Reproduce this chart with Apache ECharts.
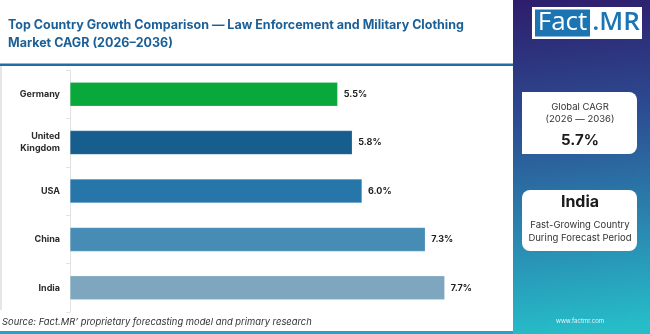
<!DOCTYPE html>
<html><head><meta charset="utf-8">
<script src="https://cdn.jsdelivr.net/npm/echarts@6/dist/echarts.min.js"></script>
<style>html,body{margin:0;padding:0;background:#fff}#c{width:650px;height:334px}</style>
</head><body><div id="c"></div>
<script>
const categories = ['Germany', 'United\nKingdom', 'USA', 'China', 'India'];
const cagrValues = [5.5, 5.8, 6.0, 7.3, 7.7];
const barColors = ['#08a93a', '#175d8e', '#2776aa', '#478cb5', '#7ea7bf'];
const titleLines = ['Top Country Growth Comparison \u2014 Law Enforcement and Military Clothing', 'Market CAGR (2026\u20132036)'];
const sourceText = 'Source: Fact.MR\u2019 proprietary forecasting model and primary research';
const globalCagr = '5.7%';
const fastCountry = 'India';

const chart = echarts.init(document.getElementById('c'), null, {renderer: 'canvas'});
const F = 'Inter, "Open Sans", sans-serif';
chart.setOption({
  animation: false,
  grid: {left: 70, top: 70, width: 438, height: 242, containLabel: false},
  xAxis: {type: 'value', min: 0, max: 9, show: false},
  yAxis: {
    type: 'category', data: categories, inverse: true,
    axisLine: {lineStyle: {color: '#e2e2e2', width: 1}},
    axisTick: {show: true, length: 4, lineStyle: {color: '#e2e2e2'}},
    axisLabel: {color: '#2b2b2b', fontFamily: F, fontWeight: 'bold', fontSize: 9, margin: 10, lineHeight: 12}
  },
  series: [{
    type: 'bar', barWidth: 24,
    data: cagrValues.map((v, i) => ({value: v, itemStyle: {color: barColors[i], borderColor: 'rgba(255,255,255,0.35)', borderWidth: 0.5}})),
    label: {show: true, position: 'right', distance: 6, formatter: p => p.value.toFixed(1) + '%', color: '#1e1e1e', fontFamily: F, fontWeight: 'bold', fontSize: 9}
  }],
  graphic: [
    {type: 'rect', shape: {x: 0, y: 66, width: 2, height: 244}, style: {fill: '#e6e6e6'}, silent: true},
    {type: 'text', x: 8, y: 25, style: {text: titleLines[0], fill: '#1b5f97', font: 'bold 12.5px ' + F, verticalAlign: 'middle'}},
    {type: 'text', x: 8, y: 43, style: {text: titleLines[1], fill: '#1b5f97', font: 'bold 12.5px ' + F, verticalAlign: 'middle'}},
    {type: 'rect', shape: {x: 0, y: 63.5, width: 513, height: 2.5}, style: {fill: '#1f6ea6'}},
    {type: 'rect', shape: {x: 0, y: 331, width: 513, height: 3}, style: {fill: '#1aa7cf'}},
    {type: 'text', x: 2, y: 322, style: {text: sourceText, fill: '#333', font: 'italic 9.4px ' + F, verticalAlign: 'middle'}},
    {type: 'rect', shape: {x: 513, y: 0, width: 137, height: 334},
      style: {fill: new echarts.graphic.LinearGradient(0, 0, 0.25, 1, [
        {offset: 0, color: '#2e1d6c'}, {offset: 0.35, color: '#2c4a90'}, {offset: 0.7, color: '#2a86b0'}, {offset: 1, color: '#26bcc8'}])}},
    {type: 'rect', shape: {x: 532, y: 7, width: 110, height: 32}, style: {fill: '#ffffff'}},
    {type: 'rect', shape: {x: 535, y: 9.5, width: 55, height: 27}, style: {fill: '#1c74b2'}},
    {type: 'text', x: 562.5, y: 23, style: {text: 'Fact', fill: '#fff', font: '400 26px "Open Sans", ' + F, align: 'center', verticalAlign: 'middle'}},
    {type: 'text', x: 616, y: 23, style: {text: '.MR', fill: '#1c74b2', font: '600 26px "Open Sans", ' + F, align: 'center', verticalAlign: 'middle'}},
    {type: 'rect', shape: {x: 522, y: 92, width: 115, height: 62, r: [0, 8, 8, 0]}, style: {fill: '#ffffff'}},
    {type: 'text', x: 580, y: 107, style: {text: 'Global CAGR', fill: '#333', font: '9.5px ' + F, align: 'center', verticalAlign: 'middle'}},
    {type: 'text', x: 580, y: 119, style: {text: '(2026 \u2014 2036)', fill: '#333', font: '9.5px ' + F, align: 'center', verticalAlign: 'middle'}},
    {type: 'text', x: 580, y: 140, style: {text: globalCagr, fill: '#1a1a1a', font: 'bold 15px ' + F, align: 'center', verticalAlign: 'middle'}},
    {type: 'rect', shape: {x: 522, y: 190, width: 115, height: 61, r: [8, 8, 8, 8]}, style: {fill: '#ffffff'}},
    {type: 'text', x: 580, y: 202, style: {text: fastCountry, fill: '#1a1a1a', font: 'bold 16px ' + F, align: 'center', verticalAlign: 'middle'}},
    {type: 'text', x: 580, y: 225, style: {text: 'Fast-Growing Country', fill: '#333', font: '9.5px ' + F, align: 'center', verticalAlign: 'middle'}},
    {type: 'text', x: 580, y: 238, style: {text: 'During Forecast Period', fill: '#333', font: '9.5px ' + F, align: 'center', verticalAlign: 'middle'}},
    {type: 'text', x: 580, y: 321, style: {text: 'www.factmr.com', fill: '#e8f4f8', font: '6px ' + F, align: 'center', verticalAlign: 'middle'}}
  ]
});
</script></body></html>
